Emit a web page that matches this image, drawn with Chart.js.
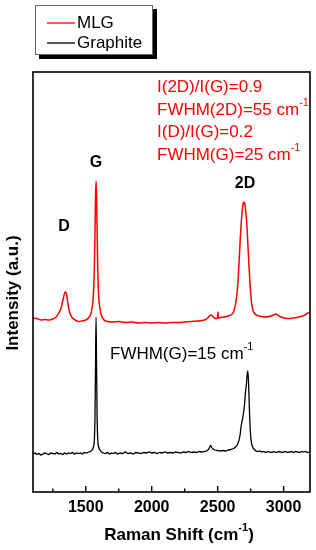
<!DOCTYPE html>
<html>
<head>
<meta charset="utf-8">
<script src="https://cdn.jsdelivr.net/npm/chart.js@4.4.0/dist/chart.umd.min.js"></script>
<style>
  html, body { margin: 0; padding: 0; background: #fff; }
  #chart { display: block; }
</style>
</head>
<body>
<canvas id="chart" width="316" height="550"></canvas>
<script>
// Raman spectra (intensity in arbitrary units, offset stacked)
const mlgShift = [1100,1130,1160,1190,1220,1250,1275,1295,1310,1322,1332,1340,1347,1354,1362,1372,1385,1400,1420,1445,1470,1500,1520,1535,1548,1558,1565,1570,1574,1578,1582,1586,1591,1598,1607,1618,1632,1650,1670,1700,1750,1800,1850,1900,1950,2000,2050,2100,2150,2200,2250,2300,2350,2400,2425,2440,2450,2460,2475,2490,2498,2502,2506,2520,2550,2580,2600,2620,2637,2650,2662,2672,2680,2688,2694,2700,2706,2713,2721,2730,2738,2748,2757,2767,2777,2800,2830,2860,2890,2915,2930,2942,2955,2970,2990,3010,3040,3070,3100,3130,3160,3185,3200];
const mlgIntensity = [174,173.5,172,172.5,172,173,175,179,183,189,195,199,200,198,191,183,177,174,172,170.5,171,172,174,177,184,198,225,260,295,311,296,262,222,196,184,177,173,171,170.5,170,170.5,169.5,170,169,169.5,169,169.5,169,169.5,169.5,170,170.5,171,172,174,176.5,177,176,174,173.5,174,180,174,174.5,175,176,177,180,189,203,229,255,272,284,289,290,288,280,268,245,225,203,189,182,179,176.5,175.5,175,175.5,176.5,177.5,178,177,175.5,174.5,174,173.5,174,174.5,175.5,177,179,180];

const graphiteShift = [1100,1115,1130,1145,1160,1175,1190,1205,1220,1235,1250,1265,1280,1295,1310,1325,1340,1355,1370,1385,1400,1415,1430,1445,1460,1475,1490,1505,1520,1535,1548,1558,1565,1570,1574,1578,1582,1586,1591,1598,1608,1620,1635,1650,1665,1680,1695,1710,1725,1740,1760,1780,1800,1820,1840,1860,1880,1900,1920,1940,1960,1980,2000,2020,2040,2060,2080,2100,2120,2140,2160,2180,2200,2220,2240,2260,2280,2300,2320,2340,2360,2380,2400,2415,2430,2440,2447,2455,2465,2480,2500,2520,2540,2560,2580,2600,2620,2635,2648,2660,2670,2678,2684,2690,2697,2704,2711,2718,2724,2729,2734,2740,2747,2755,2765,2778,2790,2805,2820,2835,2850,2865,2880,2895,2910,2925,2940,2955,2970,2985,3000,3015,3030,3045,3060,3075,3090,3105,3120,3135,3150,3165,3180,3200];
const graphiteIntensity = [38,39,37.5,38.5,37,38,39,38,37.5,39,38.5,38,39.5,38,38.5,37.5,39,38,39,38.5,39.5,38,39,38.5,39,38,39.5,39,40,40.5,42,45,52,75,125,175,125,75,52,45,42,40,39,38.5,39.5,38,39,38.5,39.5,38,39,38.5,40,38.5,39,38,39.5,39,38.5,39.5,39,40,39,39.5,38.5,39.5,39,40,39,39.5,39,40,39.5,39,40,39.5,40.5,39.5,40,39.5,40.5,40,40.5,41,42.5,45,46.5,44.5,43,42,41.5,41,41.5,41,42,42.5,43.5,45,47,51,57,66,70,74,80,88,100,108,118,121,110,85,62,50,45,42.5,41,40.5,41,40,40.5,39.5,40.5,40,39.5,40.5,39.5,40,40.5,39.5,40,40.5,39.5,40,40.5,39.5,40.5,40,39.5,40.5,40,40.5,39.5,40];

const seriesNames = ['MLG', 'Graphite'];
const seriesColors = ['#ff0000', '#000000'];

const xMajorTicks = [1500, 2000, 2500, 3000];
const xMinorTicks = [1250, 1750, 2250, 2750];

const FONT = '"Liberation Sans", Arial, sans-serif';

function toPoints(xs, ys) {
    return xs.map((x, i) => ({ x: x, y: ys[i] }));
}

// text with an optional superscript part, e.g. cm^-1
function drawParts(ctx, parts, x, y, size, bold, align) {
    const weight = bold ? 'bold ' : '';
    let total = 0;
    parts.forEach(p => {
        ctx.font = weight + (p.sup ? Math.round(size * 0.62) : size) + 'px ' + FONT;
        p.w = ctx.measureText(p.t).width;
        total += p.w;
    });
    let cx = align === 'center' ? x - total / 2 : x;
    ctx.textAlign = 'left';
    ctx.textBaseline = 'middle';
    parts.forEach(p => {
        ctx.font = weight + (p.sup ? Math.round(size * 0.62) : size) + 'px ' + FONT;
        ctx.fillText(p.t, cx, p.sup ? y - size * 0.42 : y);
        cx += p.w;
    });
}

const decorations = {
    id: 'decorations',
    beforeDraw(chart) {
        // legend shadow goes down first, nothing else is drawn up there
        const ctx = chart.ctx;
        ctx.save();
        ctx.fillStyle = 'rgb(0,0,0)';
        ctx.fillRect(39, 9, 118, 50);
        ctx.restore();
    },
    afterDraw(chart) {
        const ctx = chart.ctx;
        const area = chart.chartArea;
        const xs = chart.scales.x;
        ctx.save();

        // frame
        ctx.strokeStyle = '#000';
        ctx.lineWidth = 1.6;
        ctx.strokeRect(area.left, area.top, area.right - area.left, area.bottom - area.top);

        // inward ticks on the x axis
        ctx.lineWidth = 1.4;
        xMajorTicks.forEach(v => {
            const px = xs.getPixelForValue(v);
            ctx.beginPath(); ctx.moveTo(px, area.bottom); ctx.lineTo(px, area.bottom - 6); ctx.stroke();
        });
        xMinorTicks.forEach(v => {
            const px = xs.getPixelForValue(v);
            ctx.beginPath(); ctx.moveTo(px, area.bottom); ctx.lineTo(px, area.bottom - 3.5); ctx.stroke();
        });

        // legend box: white face, hard shadow via canvas shadow as a second path
        ctx.save();
        ctx.shadowColor = 'rgba(0,0,0,1)';
        ctx.shadowOffsetX = 4;
        ctx.shadowOffsetY = 4;
        ctx.shadowBlur = 0;
        ctx.fillStyle = '#fff';
        ctx.fillRect(35, 5, 118, 50);
        ctx.restore();
        ctx.strokeStyle = '#666';
        ctx.lineWidth = 1;
        ctx.strokeRect(35.5, 5.5, 117, 49);
        seriesNames.forEach((name, i) => {
            const ly = 23 + i * 20;
            ctx.strokeStyle = seriesColors[i];
            ctx.lineWidth = 1.3;
            ctx.beginPath(); ctx.moveTo(47, ly); ctx.lineTo(75, ly); ctx.stroke();
            ctx.fillStyle = '#000';
            drawParts(ctx, [{ t: name }], 77, ly, 17, false, 'left');
        });

        // peak labels
        ctx.fillStyle = '#000';
        drawParts(ctx, [{ t: 'G' }], 96, 163, 16, true, 'center');
        drawParts(ctx, [{ t: '2D' }], 245, 184, 16, true, 'center');
        drawParts(ctx, [{ t: 'D' }], 64, 227, 16, true, 'center');

        // MLG stats
        ctx.fillStyle = '#ff0000';
        drawParts(ctx, [{ t: 'I(2D)/I(G)=0.9' }], 157, 87, 17, false, 'left');
        drawParts(ctx, [{ t: 'FWHM(2D)=55 cm' }, { t: '-1', sup: true }], 157, 110, 17, false, 'left');
        drawParts(ctx, [{ t: 'I(D)/I(G)=0.2' }], 157, 132, 17, false, 'left');
        drawParts(ctx, [{ t: 'FWHM(G)=25 cm' }, { t: '-1', sup: true }], 157, 155, 17, false, 'left');

        // graphite stat
        ctx.fillStyle = '#000';
        drawParts(ctx, [{ t: 'FWHM(G)=15 cm' }, { t: '-1', sup: true }], 110, 354, 17, false, 'left');

        // axis titles
        drawParts(ctx, [{ t: 'Raman Shift (cm' }, { t: '-1', sup: true }, { t: ')' }], 179, 535, 17, true, 'center');
        ctx.translate(13, 293);
        ctx.rotate(-Math.PI / 2);
        drawParts(ctx, [{ t: 'Intensity (a.u.)' }], 0, 0, 17, true, 'center');

        ctx.restore();
    }
};

new Chart(document.getElementById('chart'), {
    type: 'line',
    data: {
        datasets: [
            {
                label: seriesNames[0],
                data: toPoints(mlgShift, mlgIntensity),
                borderColor: seriesColors[0],
                borderWidth: 1.5,
                pointRadius: 0,
                cubicInterpolationMode: 'monotone'
            },
            {
                label: seriesNames[1],
                data: toPoints(graphiteShift, graphiteIntensity),
                borderColor: seriesColors[1],
                borderWidth: 1.3,
                pointRadius: 0,
                cubicInterpolationMode: 'monotone'
            }
        ]
    },
    options: {
        responsive: false,
        animation: false,
        devicePixelRatio: 1,
        layout: { padding: { top: 72, right: 6, left: 0, bottom: 0 } },
        plugins: { legend: { display: false }, tooltip: { enabled: false } },
        scales: {
            x: {
                type: 'linear',
                min: 1100,
                max: 3200,
                afterBuildTicks: scale => { scale.ticks = xMajorTicks.map(v => ({ value: v })); },
                afterFit: scale => { scale.height = 58; },
                grid: { display: false, drawTicks: false },
                border: { display: false },
                ticks: {
                    color: '#000',
                    padding: 6,
                    font: { family: FONT, size: 16, weight: 'bold' },
                    callback: v => String(v)
                }
            },
            y: {
                min: 0,
                max: 420,
                afterFit: scale => { scale.width = 33; },
                grid: { display: false, drawTicks: false },
                border: { display: false },
                ticks: { display: false }
            }
        }
    },
    plugins: [decorations]
});
</script>
</body>
</html>
